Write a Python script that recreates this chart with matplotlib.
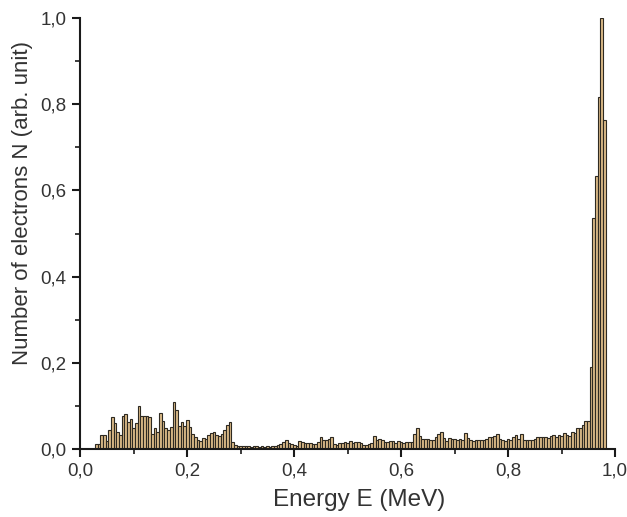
import numpy as np
import matplotlib.pyplot as plt
from matplotlib.ticker import MultipleLocator, FuncFormatter

plt.rcParams['font.family'] = ['Liberation Sans', 'DejaVu Sans']

# energy bins (left edges, MeV) and bin width
bin_width = 0.005
energy_start = 0.0275

# normalised electron counts
counts = [
    0.011, 0.011, 0.032, 0.032, 0.019, 0.043, 0.075, 0.060, 0.039, 0.032,
    0.077, 0.081, 0.062, 0.070, 0.048, 0.061, 0.100, 0.077, 0.076, 0.076,
    0.075, 0.036, 0.048, 0.039, 0.083, 0.065, 0.048, 0.044, 0.052, 0.108,
    0.090, 0.053, 0.063, 0.053, 0.067, 0.052, 0.036, 0.029, 0.021, 0.019,
    0.025, 0.023, 0.032, 0.038, 0.040, 0.032, 0.030, 0.036, 0.044, 0.056,
    0.062, 0.017, 0.009, 0.008, 0.007, 0.006, 0.008, 0.006, 0.005, 0.007,
    0.006, 0.005, 0.006, 0.005, 0.007, 0.005, 0.006, 0.008, 0.010, 0.012,
    0.017, 0.021, 0.015, 0.012, 0.009, 0.008, 0.019, 0.016, 0.014, 0.013,
    0.014, 0.012, 0.011, 0.016, 0.029, 0.022, 0.020, 0.024, 0.027, 0.012,
    0.010, 0.013, 0.014, 0.016, 0.015, 0.018, 0.015, 0.016, 0.016, 0.013,
    0.009, 0.009, 0.011, 0.014, 0.031, 0.020, 0.023, 0.020, 0.017, 0.017,
    0.018, 0.018, 0.014, 0.019, 0.016, 0.015, 0.016, 0.017, 0.017, 0.035,
    0.049, 0.031, 0.024, 0.023, 0.023, 0.020, 0.021, 0.028, 0.035, 0.039,
    0.025, 0.019, 0.025, 0.023, 0.024, 0.022, 0.023, 0.021, 0.038, 0.025,
    0.020, 0.019, 0.021, 0.022, 0.021, 0.020, 0.023, 0.027, 0.029, 0.031,
    0.035, 0.024, 0.022, 0.019, 0.023, 0.020, 0.028, 0.033, 0.024, 0.036,
    0.022, 0.020, 0.021, 0.020, 0.024, 0.029, 0.029, 0.028, 0.028, 0.026,
    0.030, 0.033, 0.028, 0.033, 0.030, 0.038, 0.032, 0.030, 0.040, 0.038,
    0.048, 0.048, 0.056, 0.066, 0.064, 0.190, 0.535, 0.633, 0.818, 1.000,
    0.763,
]

energy = energy_start + bin_width * np.arange(len(counts))

fig = plt.figure(figsize=(6.27, 5.17), dpi=100)
ax = fig.add_axes([0.128, 0.1315, 0.853, 0.8335])

ax.bar(energy, counts, width=bin_width, align='edge',
       color='#DBBA88', edgecolor='#2e2a22', linewidth=0.8)

ax.set_xlim(0, 1.0)
ax.set_ylim(0, 1.0)

comma = FuncFormatter(lambda v, pos: f"{v:.1f}".replace('.', ','))
ax.xaxis.set_major_locator(MultipleLocator(0.2))
ax.xaxis.set_minor_locator(MultipleLocator(0.1))
ax.yaxis.set_major_locator(MultipleLocator(0.2))
ax.yaxis.set_minor_locator(MultipleLocator(0.1))
ax.xaxis.set_major_formatter(comma)
ax.yaxis.set_major_formatter(comma)

for side in ['top', 'right']:
    ax.spines[side].set_visible(False)
for side in ['left', 'bottom']:
    ax.spines[side].set_linewidth(1.5)
    ax.spines[side].set_color('#1a1a1a')

ax.tick_params(which='major', direction='out', length=6, width=1.5,
               labelsize=13.5, colors='#1a1a1a', labelcolor='#333333', pad=4)
ax.tick_params(which='minor', direction='out', length=3.5, width=1.2,
               colors='#1a1a1a')

ax.set_xlabel('Energy E (MeV)', fontsize=17.5, color='#333333')
ax.set_ylabel('Number of electrons N (arb. unit)', fontsize=16,
              color='#333333')
ax.xaxis.set_label_coords(0.521, -0.092)
ax.yaxis.set_label_coords(-0.088, 0.571)

fig.savefig('out.png', dpi=100)
